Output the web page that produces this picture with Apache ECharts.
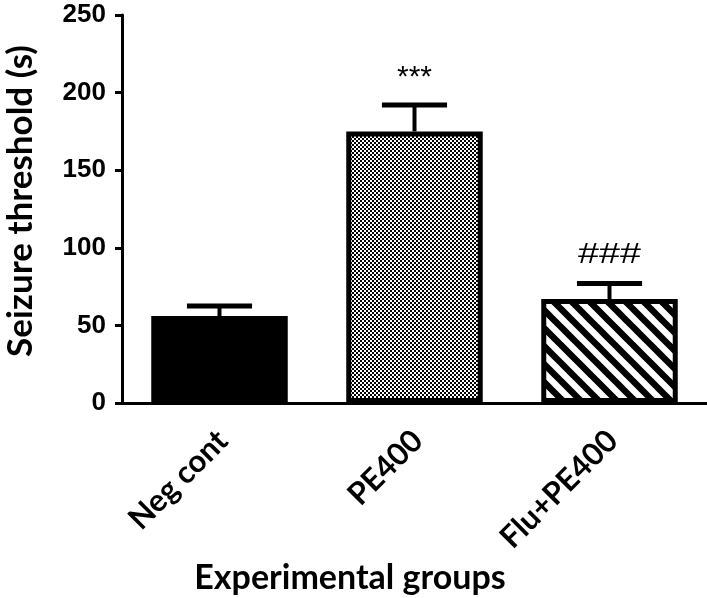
<!DOCTYPE html>
<html><head><meta charset="utf-8">
<script src="https://cdn.jsdelivr.net/npm/echarts@6/dist/echarts.min.js"></script>
<style>html,body{margin:0;padding:0;background:#fff}#c{width:707px;height:598px}</style>
</head><body><div id="c"></div>
<script>
const categories = ['Neg cont', 'PE400', 'Flu+PE400'];
const means = [56, 175, 67];
const sems = [6.5, 17, 10];
const annotations = ['', '***', '###'];
const yMin = 0, yMax = 250, yInterval = 50;
const yTitle = 'Seizure threshold (s)';
const xTitle = 'Experimental groups';

function makePattern(kind) {
  const c = document.createElement('canvas');
  if (kind === 'dots') {
    c.width = 4; c.height = 4;
    const g = c.getContext('2d');
    g.fillStyle = '#fff'; g.fillRect(0, 0, 4, 4);
    g.fillStyle = '#000'; g.fillRect(0, 0, 2, 2); g.fillRect(2, 2, 2, 2);
  } else {
    const s = 18; c.width = s; c.height = s;
    const g = c.getContext('2d');
    g.fillStyle = '#fff'; g.fillRect(0, 0, s, s);
    g.strokeStyle = '#000'; g.lineWidth = 6.5;
    g.beginPath();
    for (let k = -s; k <= s; k += s) { g.moveTo(k - 2, -2); g.lineTo(k + s + 2, s + 2); }
    g.stroke();
  }
  return { image: c, repeat: 'repeat' };
}
const fills = ['#000', makePattern('dots'), makePattern('stripes')];

const font = 'Lato';
const chart = echarts.init(document.getElementById('c'), null, { renderer: 'canvas' });
chart.setOption({
  animation: false,
  grid: { left: 122, right: 0, top: 15, bottom: 195, containLabel: false, outerBoundsMode: 'none' },
  xAxis: {
    type: 'category', data: categories,
    axisLine: { lineStyle: { color: '#000', width: 3 } },
    axisTick: { alignWithLabel: true, length: 8, lineStyle: { color: '#000', width: 3 } },
    axisLabel: { rotate: 45, margin: 14, verticalAlign: 'top', padding: [0, 11, 0, 0],
      color: '#000', fontFamily: font, fontWeight: 'bold', fontSize: 31 }
  },
  yAxis: {
    type: 'value', min: yMin, max: yMax, interval: yInterval,
    name: yTitle, nameLocation: 'middle', nameGap: 84,
    nameTextStyle: { color: '#000', fontFamily: font, fontWeight: 'bold', fontSize: 35, padding: [0, 0, 0, 16] },
    axisLine: { show: true, lineStyle: { color: '#000', width: 3 } },
    axisTick: { show: true, length: 7, lineStyle: { color: '#000', width: 3 } },
    axisLabel: { margin: 16, color: '#000', fontFamily: 'Liberation Sans', fontWeight: 'bold', fontSize: 26 },
    splitLine: { show: false }
  },
  graphic: [{
    type: 'text', x: 350, y: 578,
    style: { text: xTitle, fill: '#000', font: 'bold 34px Lato', align: 'center', verticalAlign: 'middle' }
  }],
  series: [{
    type: 'bar', barWidth: '70%',
    data: means.map((v, i) => ({ value: v, itemStyle: { color: fills[i] } })),
    itemStyle: { borderColor: '#000', borderWidth: 5 }
  }, {
    type: 'custom',
    data: means.map((v, i) => [i, v, v + sems[i]]),
    renderItem: function (params, api) {
      const x = api.value(0);
      const base = api.coord([x, api.value(1)]);
      const top = api.coord([x, api.value(2)]);
      const hw = api.size([1, 0])[0] * 0.167;
      const children = [
        { type: 'line', shape: { x1: base[0], y1: base[1], x2: top[0], y2: top[1] }, style: { stroke: '#000', lineWidth: 4 } },
        { type: 'line', shape: { x1: top[0] - hw, y1: top[1], x2: top[0] + hw, y2: top[1] }, style: { stroke: '#000', lineWidth: 5 } }
      ];
      const ann = annotations[params.dataIndex];
      if (ann) {
        const isHash = ann.indexOf('#') >= 0;
        children.push({ type: 'text', x: top[0], y: top[1] - (isHash ? 28 : 27),
          scaleX: isHash ? 1.3 : 1,
          style: { text: ann, fill: '#000', font: (isHash ? '29px' : '30px') + ' "Liberation Sans"', align: 'center', verticalAlign: 'middle' } });
      }
      return { type: 'group', children: children };
    },
    z: 3
  }]
});
</script></body></html>
